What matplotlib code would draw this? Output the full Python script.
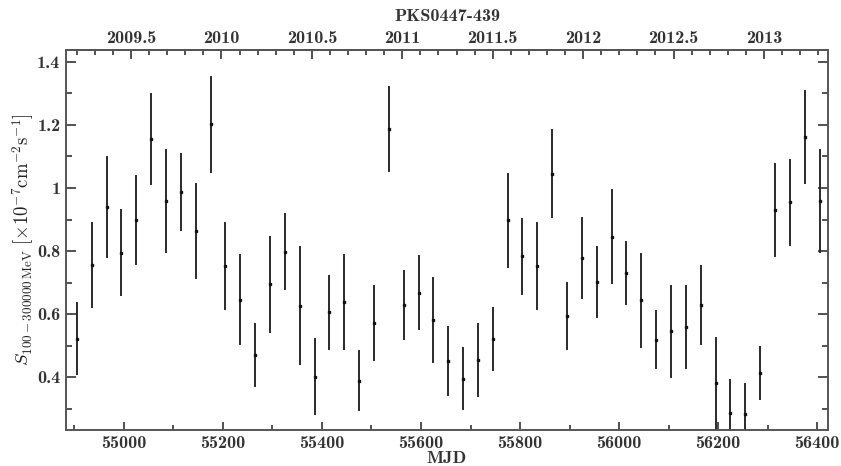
import matplotlib
matplotlib.use("Agg")
import matplotlib.pyplot as plt
from matplotlib.ticker import MultipleLocator, FixedLocator, FuncFormatter
import numpy as np

plt.rcParams['mathtext.fontset'] = 'cm'
plt.rcParams['axes.unicode_minus'] = False

# 30-day bins, MJD of bin centre
mjd = [54905, 54935, 54965, 54995, 55025, 55055, 55085, 55115, 55145, 55175,
       55205, 55235, 55265, 55295, 55325, 55355, 55385, 55415, 55445, 55475,
       55505, 55535, 55565, 55595, 55625, 55655, 55685, 55715, 55745, 55775,
       55805, 55835, 55865, 55895, 55925, 55955, 55985, 56015, 56045, 56075,
       56105, 56135, 56165, 56195, 56225, 56255, 56285, 56315, 56345, 56375,
       56405]
flux = [0.521, 0.756, 0.940, 0.795, 0.899, 1.155, 0.960, 0.987, 0.863, 1.202,
        0.752, 0.646, 0.469, 0.695, 0.798, 0.627, 0.401, 0.606, 0.639, 0.388,
        0.571, 1.188, 0.628, 0.667, 0.581, 0.451, 0.395, 0.454, 0.520, 0.897,
        0.783, 0.752, 1.046, 0.594, 0.778, 0.702, 0.846, 0.730, 0.643, 0.519,
        0.545, 0.559, 0.630, 0.380, 0.287, 0.282, 0.414, 0.931, 0.955, 1.162,
        0.959]
flux_err = [0.116, 0.137, 0.162, 0.137, 0.143, 0.145, 0.165, 0.125, 0.152, 0.154,
            0.140, 0.144, 0.102, 0.154, 0.122, 0.189, 0.122, 0.119, 0.153, 0.097,
            0.120, 0.137, 0.112, 0.119, 0.138, 0.110, 0.100, 0.116, 0.101, 0.150,
            0.122, 0.139, 0.142, 0.107, 0.129, 0.115, 0.150, 0.102, 0.152, 0.095,
            0.148, 0.134, 0.127, 0.148, 0.106, 0.098, 0.086, 0.149, 0.138, 0.150,
            0.166]
year_ticks = [2009.5, 2010, 2010.5, 2011, 2011.5, 2012, 2012.5, 2013]

title = "PKS0447-439"
fsz = 13
bold = dict(family='cmb10', size=fsz)
ink = '#333333'

fig = plt.figure(figsize=(8.41, 4.66), dpi=100)
ax = fig.add_axes([0.0785, 0.0773, 0.906, 0.8154])

ax.errorbar(mjd, flux, yerr=flux_err, fmt='s', ms=1.6, color='#111111',
            ecolor='#2a2a2a', elinewidth=1.4, capsize=0)

ax.set_xlim(54883, 56422)
ax.set_ylim(0.232, 1.438)

ax.xaxis.set_major_locator(MultipleLocator(200))
ax.xaxis.set_minor_locator(MultipleLocator(100))
ax.yaxis.set_major_locator(MultipleLocator(0.2))
ax.yaxis.set_minor_locator(MultipleLocator(0.1))
ax.xaxis.set_major_formatter(FuncFormatter(lambda v, p: '%d' % round(v)))
ax.yaxis.set_major_formatter(FuncFormatter(lambda v, p: '%g' % round(v, 1)))
ax.tick_params(axis='both', which='both', direction='in', colors=ink,
               top=False, right=True, width=1.2)
ax.tick_params(axis='x', which='major', length=6, pad=4)
ax.tick_params(axis='x', which='minor', length=3.5)
ax.tick_params(axis='y', which='major', length=7.5, pad=4)
ax.tick_params(axis='y', which='minor', length=4.5)
for lab in ax.get_xticklabels() + ax.get_yticklabels():
    lab.set_fontfamily('cmb10')
    lab.set_fontsize(fsz)
    lab.set_color(ink)
for sp in ax.spines.values():
    sp.set_color('#555555')
    sp.set_linewidth(1.4)


def to_year(m):
    return 2000 + (np.asarray(m) - 51544.5) / 365.25


def to_mjd(y):
    return 51544.5 + (np.asarray(y) - 2000) * 365.25


top = ax.secondary_xaxis('top', functions=(to_year, to_mjd))
top.xaxis.set_major_locator(FixedLocator(year_ticks))
top.xaxis.set_minor_locator(MultipleLocator(0.1))
top.xaxis.set_major_formatter(FuncFormatter(lambda v, p: '%g' % round(v, 1)))
top.tick_params(which='both', direction='in', colors=ink, width=1.2, pad=3)
top.tick_params(which='major', length=6.5)
top.tick_params(which='minor', length=3.5)
for lab in top.get_xticklabels():
    lab.set_fontfamily('cmb10')
    lab.set_fontsize(fsz)
    lab.set_color(ink)
top.spines['top'].set_color('#555555')
top.spines['top'].set_linewidth(1.4)

ax.set_title(title, fontdict=bold, color=ink, pad=21)
ax.set_xlabel('MJD', fontdict=bold, color=ink, labelpad=0)
ax.set_ylabel(r'$S_{100-300000\,\mathrm{MeV}}\ [\times10^{-7}\mathrm{cm}^{-2}\mathrm{s}^{-1}]$',
              fontsize=13.5, color='#222222', labelpad=1)

fig.savefig('out.png', dpi=100)
